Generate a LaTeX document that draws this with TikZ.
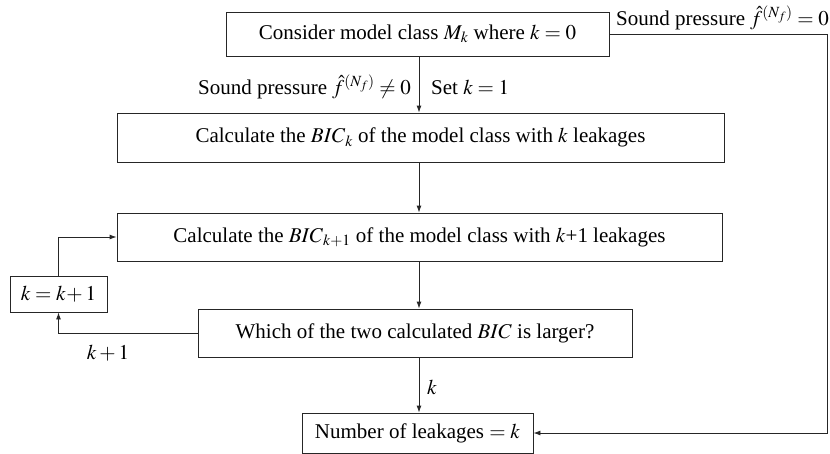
\documentclass[tikz,border=0pt]{standalone}
\usepackage{mathptmx}
\usepackage{fontspec}
\setmainfont{Liberation Serif}
\usetikzlibrary{arrows.meta,calc}
\begin{document}
\begin{tikzpicture}[x=1pt,y=-1pt,
  every node/.style={font=\fontsize{21}{24}\selectfont},
  box/.style={draw=black!85,line width=0.9pt,inner sep=0pt,anchor=center},
  conn/.style={draw=black!85,line width=0.9pt},
  arr/.style={conn,-{Latex[length=7pt,width=5pt]}},
  lbl/.style={inner sep=0pt}]
\useasboundingbox (0,0) rectangle (830,453);
\node[box,minimum width=383pt,minimum height=44pt] (b1) at (417.5,34) {Consider model class $M_k$ where $k=0$};
\node[box,minimum width=607pt,minimum height=49pt] (b2) at (420.5,137.5) {Calculate the $\mathit{BIC}_k$ of the model class with $k$ leakages};
\node[box,minimum width=605pt,minimum height=48pt] (b3) at (419.5,237) {Calculate the $\mathit{BIC}_{k+1}$ of the model class with $k$+1 leakages};
\node[box,minimum width=434pt,minimum height=48pt] (b4) at (415,333) {Which of the two calculated $\mathit{BIC}$ is larger?};
\node[box,minimum width=97pt,minimum height=36pt] (kk) at (58.5,294) {$k=k\!+1$};
\node[box,minimum width=231pt,minimum height=40pt] (b5) at (417.5,433) {Number of leakages $=k$};
\coordinate (x0) at (419,0);
\draw[arr] (b1.south -| x0) -- (b2.north -| x0);
\draw[arr] (b2.south -| x0) -- (b3.north -| x0);
\draw[arr] (b3.south -| x0) -- (b4.north -| x0);
\draw[arr] (b4.south -| x0) -- (b5.north -| x0);
\coordinate (r1) at (827,0);
\draw[arr] (b1.east) -- (b1.east -| r1) -- (b5.east -| r1) -- (b5.east);
\draw[arr] (b4.west) -- (b4.west -| kk.south) -- (kk.south);
\draw[arr] (kk.north) -- (kk.north |- b3.west) -- (b3.west);
\node[lbl,anchor=east] (l1) at (411,87) {Sound pressure $\hat{f}^{(N_f)}\neq 0$};
\node[lbl,anchor=west] (l2) at (431,87) {Set $k=1$};
\node[lbl,anchor=south east] (l3) at (829,30) {Sound pressure $\hat{f}^{(N_f)}=0$};
\node[lbl] (l4) at (108,353) {$k+1$};
\node[lbl,anchor=west] (l5) at (427,387) {$k$};
\end{tikzpicture}
\end{document}
